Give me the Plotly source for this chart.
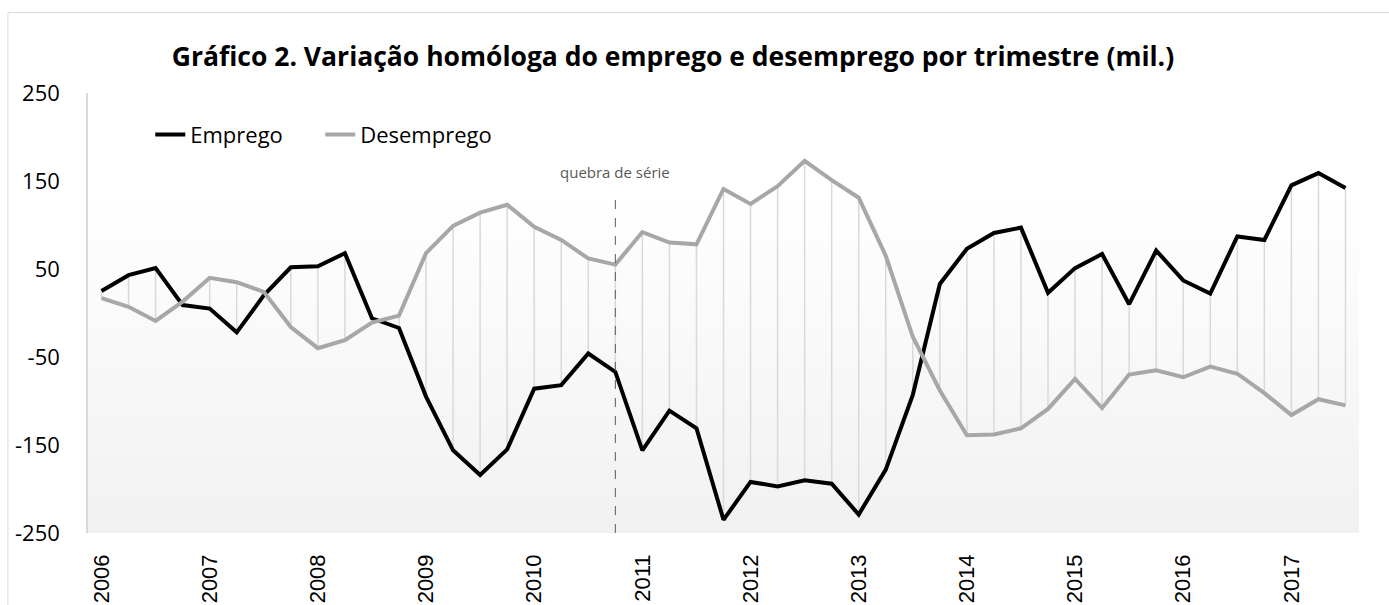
import plotly.graph_objects as go

# ---- data (thousands), quarterly 2006Q1 .. 2017Q3 ----
years = [str(y) for y in range(2006, 2018)]
quarters = [f"{y}T{q}" for y in range(2006, 2018) for q in range(1, 5)][:47]

emprego = [25, 43, 51, 9, 5, -22, 20, 52, 53, 68, -6, -17,
           -95, -156, -184, -155, -86, -82, -46, -67,
           -156, -111, -131, -235, -192, -197, -190, -194, -229, -178,
           -93, 33, 73, 91, 97, 23, 51, 67, 10, 71, 37, 22,
           87, 83, 145, 159, 142]

desemprego = [17, 7, -9, 13, 40, 35, 24, -16, -40, -31, -11, -3,
              68, 99, 114, 123, 98, 83, 62, 55,
              92, 80, 78, 141, 124, 144, 173, 151, 131, 65,
              -27, -88, -139, -138, -131, -109, -75, -108, -70, -65, -73, -61,
              -69, -91, -116, -98, -105]

break_index = 19          # series break (quebra de série)
break_label = "quebra de série"
title_text = "Gráfico 2. Variação homóloga do emprego e desemprego por trimestre (mil.)"
y_ticks = [-250, -150, -50, 50, 150, 250]
y_ticktext = [str(v) for v in y_ticks]

n = len(emprego)
xs = list(range(n))

# high-low connector lines between the two series
hl_x, hl_y = [], []
for i in xs:
    hl_x += [i, i, None]
    hl_y += [emprego[i], desemprego[i], None]

fig = go.Figure()

fig.add_trace(go.Scatter(x=hl_x, y=hl_y, mode="lines",
                         line=dict(color="#d9d9d9", width=1.5),
                         hoverinfo="skip", showlegend=False))

fig.add_trace(go.Scatter(x=xs, y=emprego, mode="lines", name="Emprego", legend="legend",
                         line=dict(color="#000000", width=4),
                         text=quarters, hovertemplate="%{text}: %{y}<extra>Emprego</extra>"))
fig.add_trace(go.Scatter(x=xs, y=desemprego, mode="lines", name="Desemprego", legend="legend2",
                         line=dict(color="#a8a6a6", width=4),
                         text=quarters, hovertemplate="%{text}: %{y}<extra>Desemprego</extra>"))

# gradient background of plot area
svg = ("data:image/svg+xml;utf8,<svg xmlns='http://www.w3.org/2000/svg' width='10' height='100' "
       "preserveAspectRatio='none'><defs><linearGradient id='g' x1='0' y1='0' x2='0' y2='1'>"
       "<stop offset='0' stop-color='%23ffffff'/><stop offset='0.22' stop-color='%23ffffff'/>"
       "<stop offset='1' stop-color='%23f1f1f1'/></linearGradient></defs>"
       "<rect width='10' height='100' fill='url(%23g)'/></svg>")
fig.add_layout_image(dict(source=svg, xref="x domain", yref="y domain", x=0, y=1,
                          sizex=1, sizey=1, sizing="stretch", xanchor="left", yanchor="top",
                          layer="below"))

# zero line (category axis)
fig.add_shape(type="line", xref="x domain", yref="y", x0=0, x1=1, y0=0, y1=0,
              line=dict(color="#d9d9d9", width=1.5), layer="below")

# series break marker
fig.add_shape(type="line", xref="x", yref="y", x0=break_index, x1=break_index,
              y0=-250, y1=132, line=dict(color="#595959", width=1, dash="dash"))
fig.add_annotation(x=break_index, y=160, xref="x", yref="y", text=break_label,
                   showarrow=False, font=dict(family="Open Sans", size=15, color="#595959"))

# outer chart border
fig.add_shape(type="rect", xref="paper", yref="paper", x0=-0.063, x1=1.2, y0=-0.6, y1=1.1825,
              line=dict(color="#d9d9d9", width=1), fillcolor="rgba(0,0,0,0)", layer="below")

legend_font = dict(family="Open Sans", size=22, color="#000000")

fig.update_layout(
    width=1389, height=605,
    margin=dict(l=88, r=30, t=93, b=72),
    paper_bgcolor="white", plot_bgcolor="rgba(0,0,0,0)",
    title=dict(text=f"<b>{title_text}</b>", x=0.4845, xref="container", xanchor="center",
               y=0.906, yref="container", yanchor="middle",
               font=dict(family="Open Sans", size=26.5, color="#000000")),
    legend=dict(orientation="h", x=0.049, y=0.905, xanchor="left", yanchor="middle",
                font=legend_font, bgcolor="rgba(0,0,0,0)"),
    legend2=dict(orientation="h", x=0.1827, y=0.905, xanchor="left", yanchor="middle",
                 font=legend_font, bgcolor="rgba(0,0,0,0)"),
    showlegend=True,
    hovermode="closest",
)

fig.update_xaxes(range=[-0.5, n - 0.5], tickmode="array",
                 tickvals=[4 * k for k in range(len(years))], ticktext=years,
                 tickangle=-90, showgrid=False, zeroline=False, showline=False,
                 ticks="", ticklabelstandoff=16, automargin=False,
                 tickfont=dict(family="Liberation Sans", size=22, color="#000000"))
fig.update_yaxes(range=[-250, 250], tickmode="array", tickvals=y_ticks, ticktext=y_ticktext,
                 showgrid=False, zeroline=False, showline=True, linecolor="#d9d9d9",
                 linewidth=1.5, ticks="", ticklabelstandoff=22, automargin=False,
                 tickfont=dict(family="Open Sans", size=22, color="#000000"))

fig.write_html("out.html", config={"displayModeBar": False},
               post_script="document.body.style.margin='0';document.body.style.overflow='hidden';")
